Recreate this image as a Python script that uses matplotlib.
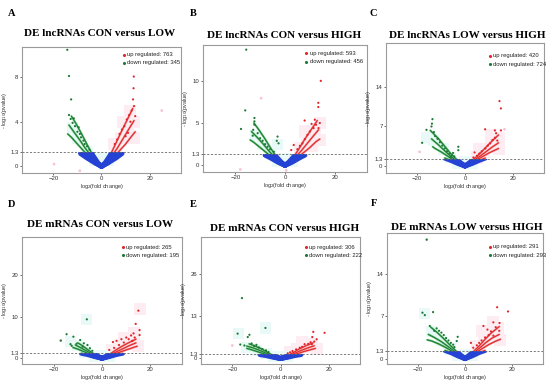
import numpy as np
import matplotlib.pyplot as plt
from matplotlib.patches import Rectangle

plt.rcParams['font.family'] = 'Liberation Sans'

# ---------------- panel A ----------------
a_title = 'DE lncRNAs CON versus LOW'
a_counts = [763, 345]
a_yticks = [0, 1.3, 4, 8]
a_ylim = [-0.6, 10.7]
a_green_arcs = [
    [(0, 0), (-3, 0.35), (-6, 0.75), (-8.7, 1.15)],
    [(0, 0), (-2.5, 0.3), (-5, 0.8), (-7.5, 1.4), (-10, 2.0), (-12.5, 2.6), (-14, 2.9)],
    [(0, 0), (-2, 0.3), (-4, 0.85), (-6.5, 1.55), (-9, 2.35), (-11.5, 3.1), (-13.5, 3.7)],
    [(0, 0), (-1.5, 0.3), (-3.5, 0.95), (-5.5, 1.75), (-8, 2.8), (-10.5, 3.8), (-12.5, 4.5)],
]
a_red_arcs = [
    [(0, 0), (3, 0.35), (6, 0.75), (8.5, 1.15)],
    [(0, 0), (2.5, 0.3), (5, 0.8), (7.5, 1.4), (10, 2.0), (12.5, 2.7), (14, 3.1)],
    [(0, 0), (2, 0.3), (4, 0.85), (6.5, 1.6), (9, 2.5), (11.5, 3.4), (13.5, 4.1)],
    [(0, 0), (1.5, 0.3), (3.5, 0.95), (5.5, 1.85), (8, 3.0), (10.5, 4.1), (13, 5.2)],
]
a_green_dots = [(-14.2, 10.45), (-13.5, 8.1), (-12.6, 6.0), (-12.8, 4.25), (-13.5, 4.6),
                (-12, 3.9), (-11, 3.6), (-10, 3.1), (-9.5, 3.5), (-8.5, 2.6), (-7.5, 2.3),
                (-7, 2.0), (-6, 1.8), (-5, 1.5), (-11.5, 4.3), (-9, 2.9)]
a_red_dots = [(13.4, 8.05), (13.3, 7.0), (13.1, 6.0), (13.5, 5.4), (12.5, 5.0), (11.5, 4.6),
              (10.5, 4.2), (9.5, 3.6), (8.5, 3.3), (7.5, 2.9), (6.5, 2.4), (12, 4.0),
              (14, 4.5), (11, 3.0), (5.5, 2.0), (10, 2.7)]
a_pink = [(5, 2), (8, 2.5), (11, 3), (13.5, 4), (13.5, 2.5), (9, 4), (6, 1.6), (12, 5)]
a_cyan = [(-3, 0.5), (0, 0.8), (3, 0.5), (-6, 1.3), (-10, 2.5), (-12, 3.5)]
a_faint = [(25, 5.0), (-19.7, 0.2), (-9, -0.4)]

# ---------------- panel B ----------------
b_title = 'DE lncRNAs CON versus HIGH'
b_counts = [593, 456]
b_yticks = [0, 1.3, 5, 10]
b_ylim = [-0.8, 14.25]
b_green_arcs = [
    [(0, 0), (-3, 0.4), (-6, 0.9), (-8, 1.2)],
    [(0, 0), (-2.5, 0.35), (-5, 0.9), (-7.5, 1.5), (-10, 2.1), (-12.5, 2.7), (-14, 3.0)],
    [(0, 0), (-2, 0.35), (-4, 0.9), (-6.5, 1.7), (-9, 2.6), (-11.5, 3.4), (-13.5, 4.0)],
    [(0, 0), (-1.5, 0.35), (-3.5, 1.0), (-5.5, 1.9), (-8, 3.1), (-10.5, 4.2), (-12.5, 5.0)],
]
b_red_arcs = [
    [(0, 0), (3, 0.4), (6, 0.9), (8, 1.2)],
    [(0, 0), (2.5, 0.35), (5, 0.9), (7.5, 1.5), (10, 2.1), (12.5, 2.8), (14, 3.1)],
    [(0, 0), (2, 0.35), (4, 0.9), (6.5, 1.7), (9, 2.6), (11.5, 3.5), (13.5, 4.2)],
    [(0, 0), (1.5, 0.35), (3.5, 1.0), (5.5, 1.9), (8, 3.1), (10.5, 4.2), (13, 5.3)],
]
b_green_dots = [(-15.6, 13.7), (-16, 6.5), (-17.7, 4.3), (-12.3, 5.6), (-12.3, 5.2), (-12.3, 4.8),
                (-12.8, 4.2), (-11, 3.8), (-10, 3.2), (-9, 2.9), (-8, 2.5), (-7, 2.2), (-6, 1.9),
                (-3, 3.4), (-3.3, 2.9), (-2.6, 2.6), (-4.5, 1.6), (-13, 3.5)]
b_red_dots = [(14.4, 10.0), (13.4, 7.4), (13.4, 6.9), (12, 5.4), (7.9, 5.3), (10.7, 4.9),
              (12.5, 4.8), (11.5, 4.4), (10, 4.0), (9, 3.6), (8, 3.1), (7, 2.6), (6, 2.3),
              (5, 1.9), (3.5, 2.4), (2.5, 1.8), (14, 5.0), (13.5, 4.4)]
b_pink = [(6, 2), (9, 3), (12, 4), (14, 5), (11, 2.3), (14, 3), (8, 4)]
b_cyan = [(-3, 0.5), (0, 0.8), (3, 0.5), (-6, 1.5), (-9, 2.5), (-12, 3.5), (-3, 2.5)]
b_faint = [(-9.6, 7.95), (-18, -0.5), (0.5, -0.6)]

# ---------------- panel C ----------------
c_title = 'DE lncRNAs LOW versus HIGH'
c_counts = [420, 724]
c_yticks = [0, 1.3, 7, 14]
c_ylim = [-1.25, 21.8]
c_green_arcs = [
    [(0, 0), (-3, 0.45), (-6, 1.0), (-8.5, 1.4)],
    [(0, 0), (-2.5, 0.45), (-5, 1.1), (-7.5, 1.8), (-10, 2.5), (-12.5, 3.1), (-13.5, 3.4)],
    [(0, 0), (-2, 0.45), (-4, 1.05), (-6.5, 1.9), (-9, 2.9), (-11.5, 3.9), (-14, 4.8)],
    [(0, 0), (-1.5, 0.45), (-3.5, 1.15), (-6, 2.2), (-8.5, 3.5), (-11, 4.8), (-14.5, 6.3)],
]
c_red_arcs = [
    [(0, 0), (3, 0.45), (6, 1.0), (8.5, 1.4)],
    [(0, 0), (2.5, 0.45), (5, 1.1), (7.5, 1.7), (10, 2.3), (12.5, 2.8), (14, 3.1)],
    [(0, 0), (2, 0.45), (4, 1.05), (6.5, 1.8), (9, 2.6), (11.5, 3.4), (14, 4.1)],
    [(0, 0), (1.5, 0.45), (3.5, 1.15), (6, 2.1), (8.5, 3.2), (11, 4.3), (14, 5.5)],
]
c_green_dots = [(-13.6, 8.3), (-16.1, 6.4), (-17.9, 4.1), (-13.8, 7.5), (-14, 7.0), (-13, 6.0),
                (-12.5, 5.3), (-11.5, 4.8), (-10.5, 4.2), (-9.5, 3.6), (-8.5, 3.1), (-7.5, 2.6),
                (-6.5, 2.2), (-5.5, 1.9), (-4.5, 1.7), (-2.8, 3.4), (-2.8, 2.8), (-5, 2.3), (-6, 1.6)]
c_red_dots = [(14.4, 11.5), (15.0, 10.2), (8.4, 6.5), (12.5, 6.3), (15, 6.3), (13, 5.8),
              (12.5, 5.0), (11.5, 4.6), (10.5, 4.0), (9.5, 3.6), (8.5, 3.1), (7, 2.6), (6, 2.2),
              (5, 1.8), (3.5, 1.5), (13.5, 4.5), (4, 2.4)]
c_pink = [(5, 1.5), (8, 2.5), (11, 3.5), (14, 5), (14, 3), (11, 5.5), (6, 3)]
c_cyan = [(-3, 0.5), (0, 0.8), (3, 0.5), (-6, 1.5), (-9, 3), (-13, 4.5), (-16, 5)]
c_faint = [(-19, 2.5), (16.5, 6.5)]

# ---------------- panel D ----------------
d_title = 'DE mRNAs CON versus LOW'
d_counts = [265, 195]
d_yticks = [0, 1.3, 10, 20]
d_ylim = [-1.4, 29.3]
d_green_arcs = [
    [(0, 0), (-3, 0.4), (-6, 0.9), (-8.5, 1.2)],
    [(0, 0), (-2.5, 0.4), (-5, 1.0), (-7.5, 1.6), (-10, 2.2), (-12, 2.6)],
    [(0, 0), (-2, 0.4), (-4, 1.0), (-6.5, 1.8), (-9, 2.6), (-11, 3.2)],
    [(0, 0), (-1.5, 0.4), (-3.5, 1.1), (-5.5, 1.9), (-8, 3.0), (-10, 3.7)],
]
d_red_arcs = [
    [(0, 0), (3, 0.4), (6, 0.9), (8.5, 1.2)],
    [(0, 0), (2.5, 0.4), (5, 1.0), (7.5, 1.5), (10, 2.0), (12.5, 2.5), (14.5, 2.9)],
    [(0, 0), (2, 0.4), (4, 1.0), (6.5, 1.7), (9, 2.4), (11.5, 3.1), (14, 3.7)],
    [(0, 0), (1.5, 0.4), (3.5, 1.1), (5.5, 1.9), (8, 2.8), (10.5, 3.6), (14, 4.6)],
]
d_green_dots = [(-6.25, 9.4), (-14.6, 5.8), (-17, 4.25), (-11.8, 5.2), (-9, 4.4), (-7.5, 3.6),
                (-6, 3.2), (-10.5, 3.5), (-12.5, 3.0), (-13, 3.4), (-8, 2.8), (-5, 2.4), (-4, 1.8)]
d_red_dots = [(15, 11.5), (13.9, 8.3), (15.5, 6.8), (15.5, 5.6), (12, 5.5), (13, 6.0), (10, 5.0),
              (11, 4.6), (8, 4.6), (6, 4.2), (4.5, 3.9), (9, 3.8), (12.5, 4.2), (7, 3.2),
              (5, 2.5), (3, 2.0), (13.5, 5.0)]
d_pink = [(4, 2), (7, 3), (10, 3.5), (13, 4), (15, 3), (9, 5), (15.5, 12), (13, 6)]
d_cyan = [(-3, 0.5), (0, 0.6), (3, 0.5), (-7, 1.5), (-10, 3), (-6.25, 9.4), (-13, 4)]
d_faint = [(-17, 4.3)]

# ---------------- panel E ----------------
e_title = 'DE mRNAs CON versus HIGH'
e_counts = [306, 222]
e_yticks = [0, 1.3, 13, 26]
e_ylim = [-1.7, 37.4]
e_green_arcs = [
    [(0, 0), (-3, 0.4), (-6, 0.9), (-8.5, 1.2)],
    [(0, 0), (-2.5, 0.4), (-5, 1.0), (-7.5, 1.6), (-10, 2.2), (-12.5, 2.8), (-14, 3.1)],
    [(0, 0), (-2, 0.4), (-4, 1.0), (-6.5, 1.8), (-9, 2.6), (-11.5, 3.3), (-14, 3.8)],
    [(0, 0), (-1.5, 0.4), (-3.5, 1.1), (-5.5, 1.9), (-8, 3.0), (-10.5, 3.8), (-13, 4.5)],
]
e_red_arcs = [
    [(0, 0), (3, 0.4), (6, 0.9), (8.5, 1.2)],
    [(0, 0), (2.5, 0.4), (5, 1.0), (7.5, 1.6), (10, 2.2), (12.5, 2.7), (14.5, 3.1)],
    [(0, 0), (2, 0.4), (4, 1.0), (6.5, 1.8), (9, 2.6), (11.5, 3.3), (14, 3.9)],
    [(0, 0), (1.5, 0.4), (3.5, 1.1), (5.5, 1.9), (8, 3.0), (10.5, 3.9), (13.5, 4.8)],
]
e_green_dots = [(-16, 18.6), (-6.25, 9.4), (-17.8, 7.65), (-13.6, 6.6), (-12.9, 7.3),
                (-16.7, 4.3), (-12, 4.6), (-11, 3.9), (-10, 4.2), (-9, 3.4), (-7.5, 2.9),
                (-6, 2.5), (-15, 4.0), (-5, 2.0)]
e_red_dots = [(18.3, 7.9), (13.6, 8.2), (13.2, 6.6), (15, 5.9), (14, 5.2), (12.5, 5.0),
              (11.5, 4.5), (10, 4.4), (9, 3.6), (8, 3.3), (6.5, 2.8), (5, 2.3), (13, 4.4),
              (4, 1.9), (3, 1.6)]
e_pink = [(4, 2), (7, 3), (10, 3.5), (13, 4.5), (15, 3), (9, 5)]
e_cyan = [(-3, 0.5), (0, 0.7), (3, 0.5), (-6, 1.6), (-10, 2.5), (-14, 3.5), (-6.25, 9.4),
          (-17.5, 7.6)]
e_faint = [(-20, 4.0)]

# ---------------- panel F ----------------
f_title = 'DE mRNAs LOW versus HIGH'
f_counts = [291, 293]
f_yticks = [0, 1.3, 7, 14]
f_ylim = [-0.9, 20.8]
f_green_arcs = [
    [(0, 0), (-3, 0.45), (-6, 1.0), (-8.5, 1.35)],
    [(0, 0), (-2.5, 0.45), (-5, 1.1), (-8, 1.8), (-11, 2.4), (-14, 2.9), (-16, 3.1)],
    [(0, 0), (-2, 0.45), (-4, 1.05), (-7, 1.95), (-10, 2.8), (-13, 3.5), (-15.5, 4.0)],
    [(0, 0), (-1.5, 0.45), (-3.5, 1.15), (-6, 2.1), (-9, 3.3), (-12, 4.4), (-14.5, 5.2)],
]
f_red_arcs = [
    [(0, 0), (3, 0.45), (6, 1.0), (8.5, 1.35)],
    [(0, 0), (2.5, 0.45), (5, 1.1), (7.5, 1.7), (10, 2.3), (12.5, 2.8), (15, 3.2)],
    [(0, 0), (2, 0.45), (4, 1.05), (6.5, 1.85), (9, 2.7), (11.5, 3.4), (14.5, 4.0)],
    [(0, 0), (1.5, 0.45), (3.5, 1.15), (6, 2.1), (8.5, 3.2), (11, 4.2), (14.5, 5.3)],
]
f_green_dots = [(-16.2, 19.7), (-18, 7.6), (-17, 7.2), (-13.5, 7.7), (-14.9, 5.4), (-12, 5.0),
                (-11, 4.6), (-10, 4.3), (-9, 3.9), (-8, 3.4), (-7, 3.0), (-6, 2.6), (-3.1, 3.6),
                (-3.5, 2.9), (-5, 2.3), (-13, 4.6), (-4.5, 1.9)]
f_red_dots = [(13.6, 8.5), (18.2, 7.8), (12, 6.0), (14.6, 5.9), (7.8, 5.4), (9.5, 4.8), (11, 4.5),
              (13, 5.2), (10, 3.9), (8.5, 3.5), (7, 3.0), (6, 2.6), (5, 2.2), (3.5, 1.8),
              (2.5, 2.6), (14.5, 4.6), (12, 3.8)]
f_pink = [(5, 2), (8, 3), (11, 4), (14, 5), (15, 3), (12, 6), (7, 4.5)]
f_cyan = [(-3, 0.5), (0, 0.7), (3, 0.5), (-6, 1.6), (-10, 3), (-14, 4.5), (-17, 7.4)]
f_faint = [(-16.2, 19.7)]

letters = ['A', 'B', 'C', 'D', 'E', 'F']
panels = [
    (a_title, a_counts, a_yticks, a_ylim, a_green_arcs, a_red_arcs, a_green_dots, a_red_dots, a_pink, a_cyan, a_faint),
    (b_title, b_counts, b_yticks, b_ylim, b_green_arcs, b_red_arcs, b_green_dots, b_red_dots, b_pink, b_cyan, b_faint),
    (c_title, c_counts, c_yticks, c_ylim, c_green_arcs, c_red_arcs, c_green_dots, c_red_dots, c_pink, c_cyan, c_faint),
    (d_title, d_counts, d_yticks, d_ylim, d_green_arcs, d_red_arcs, d_green_dots, d_red_dots, d_pink, d_cyan, d_faint),
    (e_title, e_counts, e_yticks, e_ylim, e_green_arcs, e_red_arcs, e_green_dots, e_red_dots, e_pink, e_cyan, e_faint),
    (f_title, f_counts, f_yticks, f_ylim, f_green_arcs, f_red_arcs, f_green_dots, f_red_dots, f_pink, f_cyan, f_faint),
]

# pixel boxes of the axes (left, top, right, bottom) in a 550x381 image
boxes = [(22, 47, 181, 173), (203, 45, 367, 172), (386, 43, 544, 173),
         (22, 237, 182, 364), (201, 237, 360, 364), (387, 233, 543, 364)]
title_pos = [(100, 34), (284, 35), (467, 36), (100, 225), (285, 228), (467, 227)]
letter_pos = [(12, 14), (193, 14), (373, 14), (12, 204), (193, 204), (374, 203)]
legend_pos = [(0.64, 0.06), (0.63, 0.065), (0.66, 0.10), (0.63, 0.08), (0.66, 0.08), (0.66, 0.105)]

W, H = 550, 381
fig = plt.figure(figsize=(5.5, 3.81), dpi=100)

GREEN = '#1c7a35'
LGREEN = '#7fcf8a'
RED = '#e0262a'
LRED = '#f4a0a0'
BLUE = '#2443d4'
thr = 1.3

for i, p in enumerate(panels):
    title, counts, yticks, ylim, garcs, rarcs, gdots, rdots, pink, cyan, faint = p
    l, t, r, b = boxes[i]
    ax = fig.add_axes([l / W, 1 - b / H, (r - l) / W, (b - t) / H])
    ax.set_xlim(-33, 33)
    ax.set_ylim(ylim)

    # faint background clouds of non-labelled points
    px, py = zip(*pink)
    ax.scatter(px, py, s=75, marker='s', color='#fdedf3', edgecolors='none', zorder=0)
    cx, cy = zip(*cyan)
    ax.scatter(cx, cy, s=65, marker='s', color='#e8f9f8', edgecolors='none', zorder=0)
    fx, fy = zip(*faint)
    ax.scatter(fx, fy, s=4, color='#f6c3d8', edgecolors='none', zorder=1)

    clip = Rectangle((-40, ylim[0] - 5), 80, thr - ylim[0] + 5, transform=ax.transData)
    for arcs, dark, light in [(garcs, GREEN, LGREEN), (rarcs, RED, LRED)]:
        for arc in arcs:
            x, y = zip(*arc)
            ax.plot(x, y, color=light, lw=1.6, solid_capstyle='round', zorder=2)
            ax.plot(x, y, color=dark, lw=0.8, solid_capstyle='round', zorder=3)
            ln, = ax.plot(x, y, color=BLUE, lw=3.6, solid_capstyle='round', zorder=4)
            ln.set_clip_path(clip)

    gx, gy = zip(*gdots)
    ax.scatter(gx, gy, s=2.5, color=GREEN, edgecolors='none', zorder=5)
    rx, ry = zip(*rdots)
    ax.scatter(rx, ry, s=2.5, color=RED, edgecolors='none', zorder=5)

    ax.axhline(thr, color='#666666', ls=(0, (2.5, 2)), lw=0.6, zorder=6)

    ax.set_xticks([-20, 0, 20])
    ax.set_yticks(yticks)
    ax.set_yticklabels([('%g' % v) for v in yticks])
    ax.tick_params(labelsize=4.3, length=1.5, width=0.5, pad=1, colors='#333333')
    for s in ax.spines.values():
        s.set_color('#9a9a9a')
        s.set_linewidth(0.8)
    ax.set_xlabel('log$_2$(fold change)', fontsize=4, labelpad=0.5, color='#333333')
    ax.set_ylabel('- log$_{10}$(pvalue)', fontsize=4, labelpad=0.5, color='#333333')

    lx, ly = legend_pos[i]
    ax.scatter([lx], [1 - ly], s=1.5, color=RED, transform=ax.transAxes, zorder=7)
    ax.scatter([lx], [1 - ly - 0.065], s=1.5, color=GREEN, transform=ax.transAxes, zorder=7)
    ax.text(lx + 0.02, 1 - ly, 'up regulated: %d' % counts[0], fontsize=4.2,
            transform=ax.transAxes, va='center', color='#222222')
    ax.text(lx + 0.02, 1 - ly - 0.065, 'down regulated: %d' % counts[1], fontsize=4.2,
            transform=ax.transAxes, va='center', color='#222222')

    tx, ty = title_pos[i]
    fig.text(tx / W, 1 - ty / H, title, ha='center', va='center', fontsize=8,
             fontweight='bold', family='Liberation Serif')
    lx2, ly2 = letter_pos[i]
    fig.text(lx2 / W, 1 - ly2 / H, letters[i], ha='center', va='center', fontsize=7.5,
             fontweight='bold', family='Liberation Serif')

fig.savefig('out.png', dpi=100)
